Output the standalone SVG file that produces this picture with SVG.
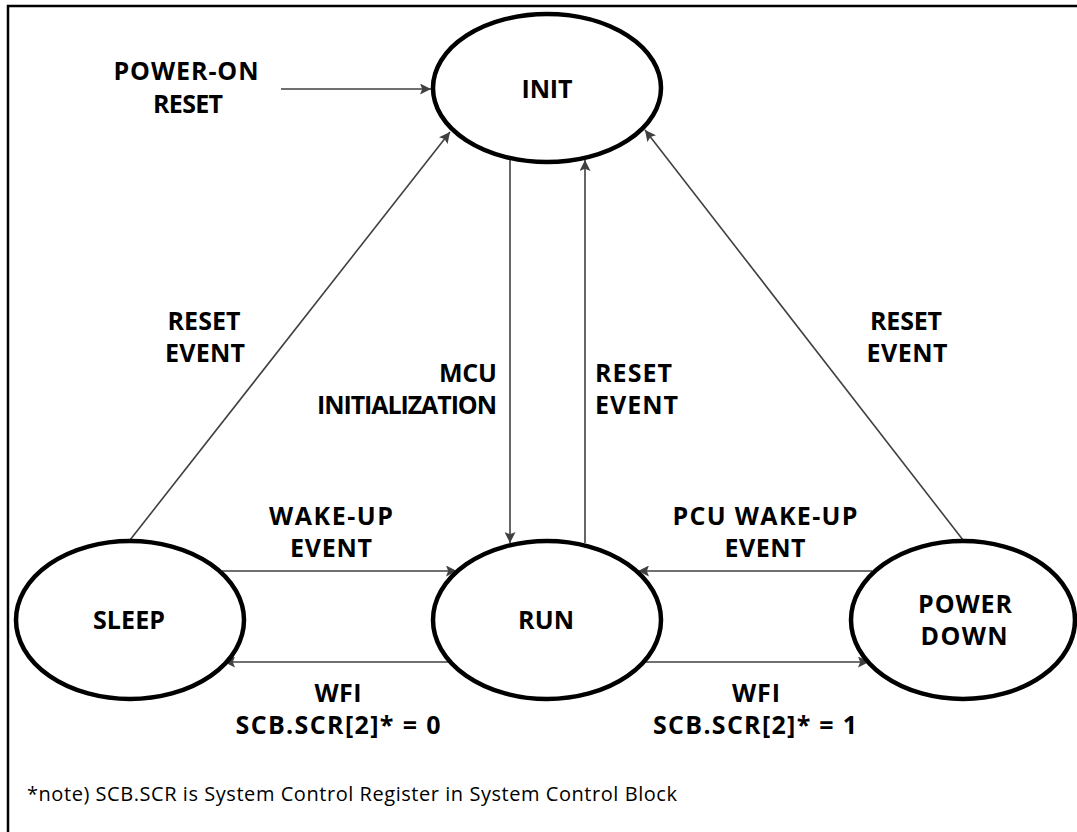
<svg xmlns="http://www.w3.org/2000/svg" width="1077" height="832" viewBox="0 0 1077 832">
<style>
.st{fill:#fff;stroke:#000;stroke-width:4.5}
.lb{font-family:"Open Sans","Noto Sans","Liberation Sans",sans-serif;font-weight:bold;font-size:25px;fill:#000;text-anchor:middle}
.cn{stroke:#404040;stroke-width:1.6;fill:none;marker-end:url(#ah)}
.nt{font-family:"Open Sans","Noto Sans","Liberation Sans",sans-serif;font-size:20px;fill:#000}
</style>
<defs>
<marker id="ah" viewBox="0 0 10 10" refX="10" refY="5" markerWidth="11" markerHeight="11" markerUnits="userSpaceOnUse" orient="auto">
<path d="M0,0 L10,5 L0,10 L2,5 Z" fill="#404040"/>
</marker>
</defs>
<rect x="0" y="0" width="1077" height="832" fill="#fff"/>
<rect x="8" y="6" width="1100" height="860" fill="none" stroke="#000" stroke-width="2.5"/>
<g id="connectors">
<line class="cn" x1="281" y1="89" x2="431" y2="89"/>
<line class="cn" x1="510" y1="160" x2="510" y2="543"/>
<line class="cn" x1="585" y1="543" x2="585" y2="160"/>
<line class="cn" x1="130" y1="540" x2="450" y2="132"/>
<line class="cn" x1="963" y1="540" x2="645" y2="130"/>
<line class="cn" x1="222" y1="571" x2="457" y2="571"/>
<line class="cn" x1="872" y1="571" x2="638" y2="571"/>
<line class="cn" x1="451" y1="662" x2="224" y2="662"/>
<line class="cn" x1="643" y1="662" x2="869" y2="662"/>
</g>
<g id="labels">
<text class="lb" lengthAdjust="spacing"><tspan x="186" y="80" textLength="145">POWER-ON</tspan><tspan x="188" y="113" textLength="70">RESET</tspan></text>
<text class="lb"><tspan x="204" y="330" textLength="73">RESET</tspan><tspan x="205" y="362" textLength="80">EVENT</tspan></text>
<text class="lb" style="text-anchor:end"><tspan x="497" y="382" textLength="58">MCU</tspan><tspan x="497" y="414" textLength="180">INITIALIZATION</tspan></text>
<text class="lb" style="text-anchor:start"><tspan x="595" y="382" textLength="77">RESET</tspan><tspan x="595" y="414" textLength="83">EVENT</tspan></text>
<text class="lb"><tspan x="906" y="330" textLength="72">RESET</tspan><tspan x="907" y="362" textLength="81">EVENT</tspan></text>
<text class="lb"><tspan x="331" y="525" textLength="124">WAKE-UP</tspan><tspan x="331" y="557" textLength="82">EVENT</tspan></text>
<text class="lb"><tspan x="765" y="525" textLength="185">PCU WAKE-UP</tspan><tspan x="765" y="557" textLength="81">EVENT</tspan></text>
<text class="lb"><tspan x="338" y="702" textLength="47">WFI</tspan><tspan x="338" y="734" textLength="205">SCB.SCR[2]* = 0</tspan></text>
<text class="lb"><tspan x="756" y="702" textLength="48">WFI</tspan><tspan x="755" y="734" textLength="204">SCB.SCR[2]* = 1</tspan></text>
</g>
<g id="init"><ellipse class="st" cx="547" cy="88" rx="114" ry="74"/><text class="lb" x="547" y="98" textLength="51">INIT</text></g>
<g id="sleep"><ellipse class="st" cx="130" cy="620" rx="114" ry="79"/><text class="lb" x="129" y="629" textLength="72">SLEEP</text></g>
<g id="run"><ellipse class="st" cx="547" cy="620" rx="114" ry="79"/><text class="lb" x="546" y="629" textLength="56">RUN</text></g>
<g id="powerdown"><ellipse class="st" cx="963" cy="620" rx="112" ry="79"/><text class="lb"><tspan x="965" y="613" textLength="94">POWER</tspan><tspan x="964" y="645" textLength="87">DOWN</tspan></text></g>
<text class="nt" x="27" y="801" textLength="650" lengthAdjust="spacing">*note) SCB.SCR is System Control Register in System Control Block</text>
</svg>
